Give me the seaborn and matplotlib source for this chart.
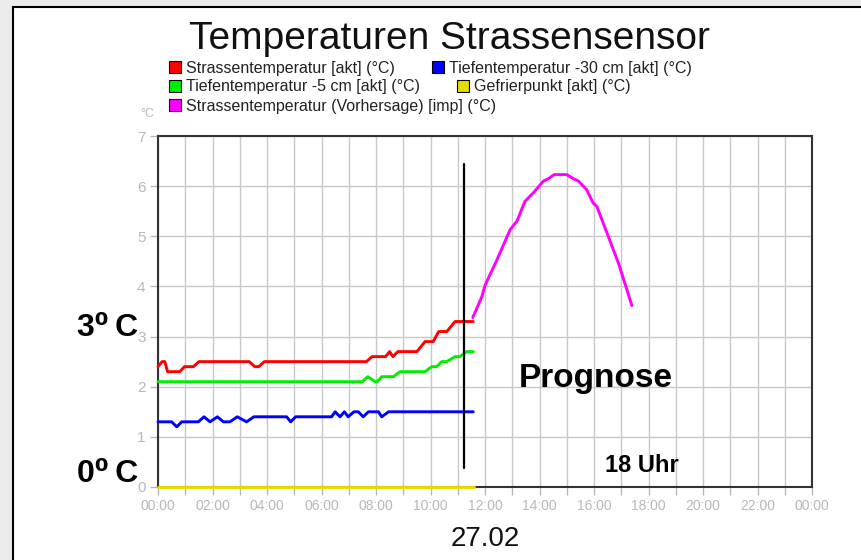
import matplotlib
matplotlib.use("Agg")
import matplotlib.pyplot as plt
from matplotlib.patches import Rectangle
from matplotlib.lines import Line2D
import seaborn as sns
import pandas as pd

# ---------------- data (hours of 27.02, degrees C) ----------------
road_t = [0.0, 0.15, 0.25, 0.35, 0.8, 0.97, 1.3, 1.5, 3.35, 3.55, 3.7, 3.9, 7.65, 7.85,
          8.35, 8.5, 8.62, 8.8, 9.5, 9.8, 10.1, 10.3, 10.6, 10.9, 11.57]
road_v = [2.4, 2.5, 2.5, 2.3, 2.3, 2.4, 2.4, 2.5, 2.5, 2.4, 2.4, 2.5, 2.5, 2.6,
          2.6, 2.7, 2.6, 2.7, 2.7, 2.9, 2.9, 3.1, 3.1, 3.3, 3.3]

deep30_t = [0.0, 0.5, 0.69, 0.87, 1.48, 1.69, 1.91, 2.18, 2.4, 2.64, 2.91, 3.25, 3.52,
            4.72, 4.87, 5.05, 6.37, 6.5, 6.68, 6.84, 6.98, 7.19, 7.35, 7.53, 7.72,
            8.09, 8.21, 8.46, 11.57]
deep30_v = [1.3, 1.3, 1.2, 1.3, 1.3, 1.4, 1.3, 1.4, 1.3, 1.3, 1.4, 1.3, 1.4,
            1.4, 1.3, 1.4, 1.4, 1.5, 1.4, 1.5, 1.4, 1.5, 1.5, 1.4, 1.5,
            1.5, 1.4, 1.5, 1.5]

deep5_t = [0.0, 7.5, 7.7, 7.97, 8.05, 8.21, 8.64, 8.88, 9.8, 10.04, 10.23, 10.41,
           10.59, 10.9, 11.08, 11.33, 11.57]
deep5_v = [2.1, 2.1, 2.2, 2.1, 2.1, 2.2, 2.2, 2.3, 2.3, 2.4, 2.4, 2.5,
           2.5, 2.6, 2.6, 2.7, 2.7]

freeze_t = [0.0, 11.6]
freeze_v = [0.0, 0.0]

forecast_t = [11.55, 11.69, 11.88, 12.0, 12.43, 12.92, 13.17, 13.47, 13.78, 14.14,
              14.33, 14.54, 15.0, 15.24, 15.43, 15.73, 15.97, 16.1, 16.53, 16.9,
              17.14, 17.39]
forecast_v = [3.38, 3.55, 3.79, 4.02, 4.52, 5.13, 5.30, 5.70, 5.87, 6.10,
              6.15, 6.23, 6.23, 6.15, 6.10, 5.93, 5.66, 5.60, 4.99, 4.46,
              4.05, 3.62]

series_labels = ["Strassentemperatur [akt] (°C)",
                 "Tiefentemperatur -30 cm [akt] (°C)",
                 "Tiefentemperatur -5 cm [akt] (°C)",
                 "Gefrierpunkt [akt] (°C)",
                 "Strassentemperatur (Vorhersage) [imp] (°C)"]
series_colors = ["#ff0000", "#0000ff", "#00ee00", "#e6dc00", "#ff00ff"]

x_ticks = list(range(0, 25, 2))
x_ticklabels = ["00:00", "02:00", "04:00", "06:00", "08:00", "10:00", "12:00",
                "14:00", "16:00", "18:00", "20:00", "22:00", "00:00"]
y_ticks = [0, 1, 2, 3, 4, 5, 6, 7]

title = "Temperaturen Strassensensor"
date_label = "27.02"
now_marker_t = 11.23
now_marker_span = (0.38, 6.45)

# ---------------- style ----------------
sns.set_style("white")
plt.rcParams['font.family'] = ['Liberation Sans', 'DejaVu Sans']

W, H = 861, 560
fx = lambda x: x / W
fy = lambda y: 1 - y / H

fig = plt.figure(figsize=(W / 100, H / 100), dpi=100)
fig.patch.set_facecolor('#ebebeb')
panel = Rectangle((fx(12.5), -0.1), 1.2, fy(6.5) + 0.1, transform=fig.transFigure,
                  facecolor='white', edgecolor='black', lw=1.5, zorder=-10)
fig.patches.append(panel)

ax = fig.add_axes([fx(158), fy(487), 654 / W, 351 / H])
ax.set_facecolor('white')
ax.set_zorder(1)

frames = [
    (road_t, road_v), (deep30_t, deep30_v), (deep5_t, deep5_v),
    (freeze_t, freeze_v), (forecast_t, forecast_v)]
for (t, v), lab, col in zip(frames, series_labels, series_colors):
    df = pd.DataFrame({"t": t, "v": v})
    sns.lineplot(data=df, x="t", y="v", ax=ax, color=col, lw=2.1,
                 estimator=None, sort=False, zorder=4 if col == "#e6dc00" else 3,
                 clip_on=False)

# vertical "now" line
ax.plot([now_marker_t, now_marker_t], list(now_marker_span), color='black', lw=1.6, zorder=5)

ax.set_xlim(0, 24)
ax.set_ylim(0, 7)
ax.set_xticks(x_ticks)
ax.set_xticklabels(x_ticklabels)
ax.set_xticks(range(0, 25), minor=True)
ax.set_yticks(y_ticks)
ax.set_yticklabels([str(v) for v in y_ticks])
ax.tick_params(axis='both', which='both', colors='#b8b8b8', labelcolor='#b8b8b8',
               length=6, width=1, direction='out')
ax.tick_params(axis='x', labelsize=10, pad=3)
ax.tick_params(axis='y', labelsize=11, pad=3, left=True)
ax.tick_params(axis='x', which='both', bottom=True)
ax.grid(True, which='both', axis='x', color='#c8c8c8', lw=1)
ax.grid(True, which='major', axis='y', color='#c8c8c8', lw=1)
ax.set_axisbelow(True)
for s in ax.spines.values():
    s.set_visible(True)
    s.set_color('#333333')
    s.set_linewidth(1.5)
ax.set_ylabel("")
ax.set_xlabel(date_label, fontsize=20, color='#111111')
ax.xaxis.set_label_coords(0.5, -0.112)

# title and unit
fig.text(fx(449), fy(49), title, ha='center', va='baseline', fontsize=28, color='#111111')
fig.text(fx(147), fy(114), "°C", ha='center', va='center', fontsize=9, color='#b8b8b8')

# legend (flow layout, three rows)
def handle(c):
    return Line2D([], [], marker='s', ls='none', markersize=8, markerfacecolor=c,
                  markeredgecolor='black', markeredgewidth=0.8)

rows = [([0, 1], 68), ([2, 3], 87), ([4], 106)]
for idx, ypx in rows:
    leg = fig.legend(handles=[handle(series_colors[i]) for i in idx],
                     labels=[series_labels[i] for i in idx], ncol=len(idx),
                     loc='center left', bbox_to_anchor=(fx(168.5), fy(ypx)),
                     frameon=False, fontsize=11.5, handlelength=0.8, handletextpad=0.3,
                     columnspacing=2.3, borderpad=0, borderaxespad=0, labelcolor='#222222')

# annotations (outside the plotting area, left of the y tick labels)
bold = dict(fontweight='bold', color='black', family=['Liberation Sans', 'DejaVu Sans'])
fig.text(fx(77), fy(336.5), "3⁰\u2009C", ha='left', va='baseline', fontsize=23, zorder=6, **bold)
fig.text(fx(77), fy(481.5), "0⁰\u2009C", ha='left', va='baseline', fontsize=23, zorder=6, **bold)
fig.text(fx(519), fy(386.5), "Prognose", ha='left', va='baseline', fontsize=24, zorder=6, **bold)
fig.text(fx(605), fy(471.5), "18 Uhr", ha='left', va='baseline', fontsize=17, zorder=6, **bold)

fig.savefig("out.png", dpi=100, facecolor=fig.get_facecolor())
